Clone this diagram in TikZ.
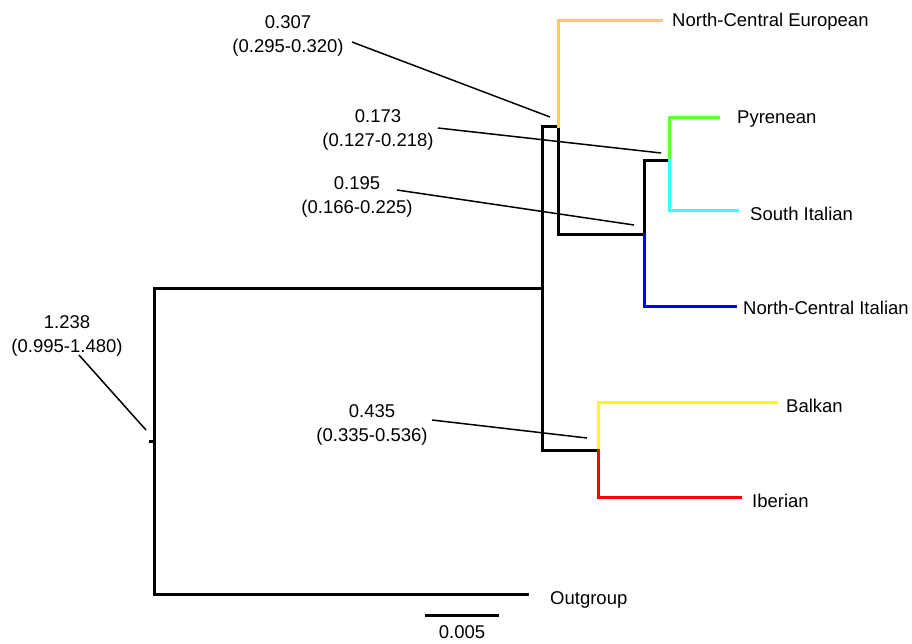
\documentclass[tikz,border=0pt]{standalone}
\usepackage{fontspec}
\setmainfont{Liberation Sans}
\definecolor{cOrange}{HTML}{FFC966}
\definecolor{cGreen}{HTML}{66FF33}
\definecolor{cCyan}{HTML}{33FFFF}
\definecolor{cBlue}{HTML}{0000FF}
\definecolor{cYellow}{HTML}{FFFF00}
\definecolor{cRed}{HTML}{FF0000}
\begin{document}
\begin{tikzpicture}[x=1pt,y=-1pt,
  tree/.style={line width=3pt,line cap=rect,line join=miter},
  ann/.style={line width=1.5pt},
  taxon/.style={anchor=west,inner sep=0pt,font=\fontsize{18.5}{22}\selectfont},
  lab/.style={align=center,inner sep=0pt,font=\fontsize{18.5}{24}\selectfont}]
\useasboundingbox (0,0) rectangle (912,643);
% tree nodes
\coordinate (root) at (154,441);
\coordinate (n1) at (542,288);
\coordinate (n2) at (558,126);
\coordinate (n3) at (644,234);
\coordinate (n4) at (669,160);
\coordinate (n5) at (598,450);
% taxa
\node[taxon] (nce) at (672,22) {North-Central European};
\node[taxon] (pyr) at (737,119) {Pyrenean};
\node[taxon] (sit) at (750,214) {South Italian};
\node[taxon] (nci) at (743,308) {North-Central Italian};
\node[taxon] (bal) at (786,406) {Balkan};
\node[taxon] (ibe) at (752,501) {Iberian};
\node[taxon] (out) at (550,600) {Outgroup};
% tree
\draw[tree] (150,441) -- (154,441);
\draw[tree] (154,594) -- (154,288) -- (542,288);
\draw[tree] (154,594) -- (527,594);
\draw[tree] (542,450) -- (542,126) -- (558,126) -- (558,234) -- (644,234) -- (644,160) -- (669,160);
\draw[tree] (542,450) -- (598,450);
\draw[tree,cOrange] (558,126) -- (558,20) -- (661,20);
\draw[tree,cGreen] (669,160) -- (669,117) -- (718,117);
\draw[tree,cCyan] (669,160) -- (669,210) -- (737,210);
\draw[tree,cBlue] (644,234) -- (644,306) -- (735,306);
\draw[tree,cYellow] (598,450) -- (598,402) -- (776,402);
\draw[tree,cRed] (598,450) -- (598,497) -- (740,497);
% annotations
\node[lab] (a1) at (288,36) {0.307\\(0.295-0.320)};
\node[lab] (a2) at (378,130) {0.173\\(0.127-0.218)};
\node[lab] (a3) at (357,197) {0.195\\(0.166-0.225)};
\node[lab] (a4) at (67,336) {1.238\\(0.995-1.480)};
\node[lab] (a5) at (372,425) {0.435\\(0.335-0.536)};
\coordinate (t1) at (550,117);
\coordinate (t2) at (661,153);
\coordinate (t3) at (634,225);
\coordinate (t4) at (146,430);
\coordinate (t5) at (587,438);
\draw[ann] (352,42) -- (t1);
\draw[ann] (438,128) -- (t2);
\draw[ann] (397,190) -- (t3);
\draw[ann] (79,355) -- (t4);
\draw[ann] (432,420) -- (t5);
% scale bar
\coordinate (s1) at (425,615);
\coordinate (s2) at (499,615);
\draw[tree,line cap=butt] (s1) -- (s2);
\node[lab] (sb) at (462,632) {0.005};
\end{tikzpicture}
\end{document}
